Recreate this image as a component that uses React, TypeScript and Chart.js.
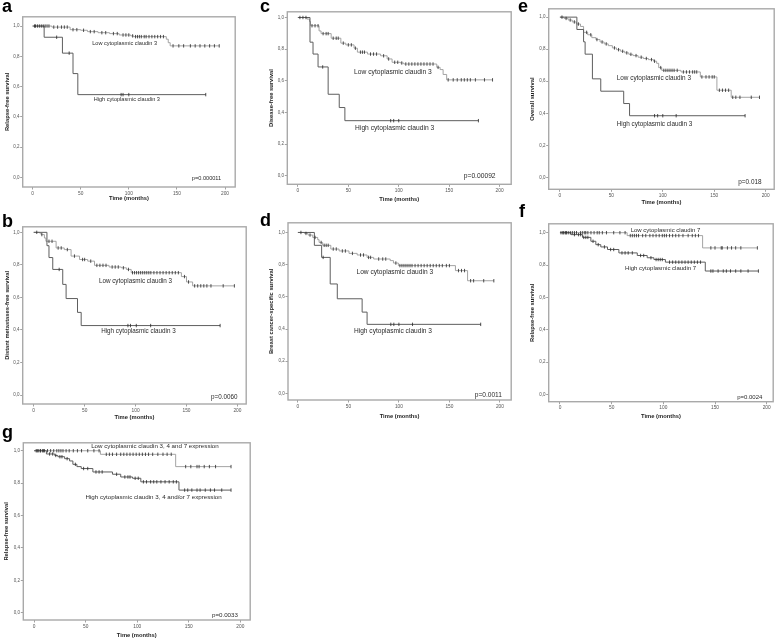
import React, { useEffect, useRef } from 'react';
import { Chart, registerables } from 'chart.js';

Chart.register(...registerables);

const FONT = '"Liberation Sans", Arial, sans-serif';

// ---- shared axis ticks ----
const xTickValues = [0, 50, 100, 150, 200];
const yTickValues = [0, 0.2, 0.4, 0.6, 0.8, 1.0];
const xAxisTitle = 'Time (months)';

// ---- panel a : relapse-free survival, claudin 3 ----
const aLowTime = [0, 20, 39, 50, 57, 68, 80, 90, 102, 105, 139, 141, 143, 194];
const aLowSurv = [1, 0.993, 0.976, 0.972, 0.963, 0.956, 0.95, 0.941, 0.935, 0.93, 0.913, 0.89, 0.869, 0.869];
const aLowCens = [2, 3, 5, 7, 9, 11, 13, 15, 17, 22, 26, 30, 33, 36, 42, 46, 53, 60, 64, 72, 76, 84, 88, 94, 97, 100, 104, 107, 109, 111, 113, 116, 118, 121, 124, 127, 130, 133, 136, 146, 152, 157, 164, 169, 174, 179, 184, 189, 194];
const aHighTime = [0, 12, 31, 42, 47, 180];
const aHighSurv = [1, 0.926, 0.821, 0.686, 0.547, 0.547];
const aHighCens = [25, 38, 92, 94, 100, 180];

// ---- panel b : distant metastases-free survival ----
const bLowTime = [0, 5.6, 7.2, 10.5, 12, 22, 30, 36.7, 45, 53, 59.7, 74, 86, 91, 95.7, 145, 150, 156, 197];
const bLowSurv = [1, 0.996, 0.986, 0.965, 0.945, 0.904, 0.894, 0.854, 0.833, 0.823, 0.797, 0.787, 0.782, 0.772, 0.752, 0.728, 0.695, 0.671, 0.671];
const bLowCens = [3, 8, 15, 18, 24, 27, 33, 40, 48, 50, 56, 62, 65, 68, 71, 77, 80, 83, 88, 93, 97, 99, 101, 103, 105, 107, 109, 111, 113, 115, 118, 121, 124, 127, 130, 133, 136, 139, 142, 148, 152, 158, 161, 164, 167, 170, 174, 186, 197];
const bHighTime = [0, 13, 15, 18.7, 28.5, 31.8, 43, 46.6, 183];
const bHighSurv = [1, 0.918, 0.845, 0.772, 0.68, 0.593, 0.508, 0.427, 0.427];
const bHighCens = [25, 92.5, 95, 100.7, 114.8, 183];

// ---- panel c : disease-free survival ----
const cLowTime = [0, 9, 11.5, 12.5, 21, 23, 33, 42.6, 47.5, 55.7, 59, 69, 82, 88.5, 93.4, 101.6, 105, 137.7, 141, 144, 147.5, 193];
const cLowSurv = [1, 0.99, 0.975, 0.948, 0.915, 0.898, 0.869, 0.838, 0.827, 0.806, 0.781, 0.769, 0.758, 0.738, 0.717, 0.7125, 0.706, 0.685, 0.671, 0.64, 0.606, 0.606];
const cLowCens = [2, 5, 8, 14, 17, 20, 25, 28, 30, 35, 38, 40, 45, 50, 53, 57, 62, 64, 66, 72, 75, 78, 85, 90, 96, 99, 103, 107, 110, 113, 116, 119, 122, 125, 128, 131, 134, 139, 149, 154, 158, 162, 165, 168, 171, 176, 185, 193];
const cHighTime = [0, 12, 15, 20, 30, 41, 46.6, 179];
const cHighSurv = [1, 0.844, 0.769, 0.6875, 0.515, 0.431, 0.348, 0.348];
const cHighCens = [24.6, 92, 95, 100, 179];

// ---- panel d : breast cancer-specific survival ----
const dLowTime = [0, 6.5, 10, 14.7, 19.6, 21, 24.5, 32.6, 40.8, 50.6, 58.7, 68.5, 75, 91.4, 94.6, 99.5, 156, 168, 194];
const dLowSurv = [1, 0.994, 0.984, 0.969, 0.955, 0.938, 0.92, 0.897, 0.885, 0.87, 0.86, 0.845, 0.835, 0.825, 0.81, 0.794, 0.763, 0.7, 0.7];
const dLowCens = [3, 8, 12, 17, 23, 26, 28, 30, 35, 38, 44, 47, 54, 62, 65, 70, 72, 80, 84, 87, 97, 101, 103, 105, 107, 109, 111, 113, 116, 119, 122, 125, 128, 131, 134, 137, 140, 143, 147, 150, 159, 162, 165, 171, 174, 184, 194];
const dHighTime = [0, 16.3, 23.5, 32, 39, 63.6, 68.5, 181];
const dHighSurv = [1, 0.92, 0.845, 0.68, 0.588, 0.505, 0.429, 0.429];
const dHighCens = [25, 92, 95, 100, 113.5, 181];

// ---- panel e : overall survival ----
const eLowTime = [0, 4, 8, 12, 16, 20, 23, 27, 31, 35, 39, 43, 47, 51, 55, 59, 63, 67, 71, 76, 81, 86, 91, 94, 96, 99, 117.7, 136.5, 152.6, 166.5, 194];
const eLowSurv = [1, 0.992, 0.982, 0.97, 0.957, 0.942, 0.905, 0.89, 0.872, 0.86, 0.845, 0.833, 0.822, 0.808, 0.797, 0.787, 0.777, 0.768, 0.76, 0.75, 0.742, 0.735, 0.725, 0.712, 0.685, 0.668, 0.658, 0.627, 0.544, 0.5, 0.5];
const eLowCens = [2, 6, 10, 14, 18, 26, 30, 36, 41, 45, 53, 57, 61, 65, 69, 74, 79, 84, 89, 92, 98, 101, 103, 105, 107, 109, 111, 114, 120, 123, 126, 129, 131, 133, 138, 142, 145, 148, 150, 155, 158, 161, 164, 168, 171, 175, 186, 194];
const eHighTime = [0, 16.5, 23, 24.5, 31.6, 39.7, 62, 67.7, 180];
const eHighSurv = [1, 0.923, 0.846, 0.769, 0.615, 0.538, 0.461, 0.385, 0.385];
const eHighCens = [92, 95, 100, 113, 180];

// ---- panel f : relapse-free survival, claudin 7 ----
const fLowTime = [0, 65, 138, 191];
const fLowSurv = [1, 0.982, 0.906, 0.906];
const fLowCens = [1, 3, 5, 6, 8, 10, 12, 14, 16, 20, 22, 24, 25, 27, 30, 33, 36, 38, 41, 45, 52, 58, 63, 68, 70, 72, 74, 76, 80, 83, 87, 90, 93, 96, 99, 101, 103, 106, 109, 112, 115, 119, 124, 128, 131, 134, 146, 150, 156, 157, 162, 166, 170, 175, 191];
const fHighTime = [0, 10.6, 21.8, 29.9, 34.7, 39.5, 46, 57, 74.8, 84.4, 90.9, 102, 140.6, 192];
const fHighSurv = [1, 0.988, 0.971, 0.947, 0.926, 0.912, 0.896, 0.875, 0.859, 0.845, 0.834, 0.818, 0.763, 0.763];
const fHighCens = [3, 6, 14, 18, 20, 23, 25, 27, 32, 37, 43, 49, 52, 60, 63, 66, 70, 78, 81, 88, 93, 95, 97, 99, 106, 109, 112, 115, 118, 121, 124, 127, 130, 133, 136, 146, 148, 153, 158, 161, 165, 170, 175, 182, 192];

// ---- panel g : relapse-free survival, claudin 3, 4, 7 ----
const gLowTime = [0, 64.3, 137.3, 191];
const gLowSurv = [1, 0.978, 0.902, 0.902];
const gLowCens = [2, 4, 6, 8, 10, 13, 16, 19, 22, 24, 26, 28, 31, 34, 38, 42, 46, 52, 58, 63, 70, 73, 76, 80, 84, 87, 90, 93, 96, 99, 102, 105, 108, 111, 115, 120, 125, 129, 133, 147, 152, 158, 160, 165, 170, 176, 191];
const gHighTime = [0, 11.9, 20, 23, 29.6, 34.4, 37.6, 41.5, 45.7, 57, 76, 84, 95.5, 103.5, 140.5, 191];
const gHighSurv = [1, 0.98, 0.971, 0.963, 0.951, 0.937, 0.916, 0.902, 0.89, 0.869, 0.855, 0.838, 0.83, 0.808, 0.757, 0.757];
const gHighCens = [3, 6, 9, 15, 18, 21, 25, 27, 32, 40, 48, 52, 60, 63, 66, 80, 88, 91, 93, 98, 101, 106, 109, 113, 116, 119, 123, 127, 131, 135, 138, 146, 149, 153, 158, 161, 166, 171, 175, 182, 191];

type Box = { l: number; t: number; r: number; b: number };
type PanelDef = {
  letter: string; letterX: number; letterBase: number;
  box: Box; xRange: [number, number]; yRange: [number, number];
  yTitleX: number; xTitleY: number; yTitle: string;
  lowT: number[]; lowS: number[]; lowC: number[];
  highT: number[]; highS: number[]; highC: number[];
  lowLabel: string; lowAt: [number, number];
  highLabel: string; highAt: [number, number];
  pText: string; pAt: [number, number]; textSize: number;
};

const panels: PanelDef[] = [
  { letter: 'a', letterX: 2, letterBase: 12, box: { l: 22.7, t: 15, r: 237, b: 187 }, xRange: [-10.3, 210.6], yRange: [-0.063, 1.061], yTitleX: 6.7, xTitleY: 198, yTitle: 'Relapse-free survival',
    lowT: aLowTime, lowS: aLowSurv, lowC: aLowCens, highT: aHighTime, highS: aHighSurv, highC: aHighCens,
    lowLabel: 'Low cytoplasmic claudin 3', lowAt: [61.9, 0.886], highLabel: 'High cytoplasmic claudin 3', highAt: [63.5, 0.512], pText: 'p=0.000011', pAt: [196, -0.007], textSize: 5.6 },
  { letter: 'b', letterX: 2, letterBase: 227, box: { l: 22.7, t: 225.7, r: 247.3, b: 404 }, xRange: [-10.8, 208.6], yRange: [-0.055, 1.034], yTitleX: 7.3, xTitleY: 416.5, yTitle: 'Distant metastases-free survival',
    lowT: bLowTime, lowS: bLowSurv, lowC: bLowCens, highT: bHighTime, highS: bHighSurv, highC: bHighCens,
    lowLabel: 'Low cytoplasmic claudin 3', lowAt: [64, 0.701], highLabel: 'High cytoplasmic claudin 3', highAt: [66.2, 0.39], pText: 'p=0.0060', pAt: [200, -0.016], textSize: 6.3 },
  { letter: 'c', letterX: 260, letterBase: 12, box: { l: 287.3, t: 10, r: 513, b: 184.3 }, xRange: [-10.5, 211.5], yRange: [-0.054, 1.036], yTitleX: 271.3, xTitleY: 199, yTitle: 'Disease-free survival',
    lowT: cLowTime, lowS: cLowSurv, lowC: cLowCens, highT: cHighTime, highS: cHighSurv, highC: cHighCens,
    lowLabel: 'Low cytoplasmic claudin 3', lowAt: [55.7, 0.654], highLabel: 'High cytoplasmic claudin 3', highAt: [56.7, 0.3], pText: 'p=0.00092', pAt: [196, 0.0], textSize: 6.7 },
  { letter: 'd', letterX: 260, letterBase: 226, box: { l: 288, t: 221.7, r: 513, b: 400 }, xRange: [-9.8, 211.2], yRange: [-0.041, 1.06], yTitleX: 271.3, xTitleY: 415.7, yTitle: 'Breast cancer-specific survival',
    lowT: dLowTime, lowS: dLowSurv, lowC: dLowCens, highT: dHighTime, highS: dHighSurv, highC: dHighCens,
    lowLabel: 'Low cytoplasmic claudin 3', lowAt: [58, 0.753], highLabel: 'High cytoplasmic claudin 3', highAt: [55.5, 0.386], pText: 'p=0.0011', pAt: [202, -0.014], textSize: 6.6 },
  { letter: 'e', letterX: 518, letterBase: 12, box: { l: 548.7, t: 7.3, r: 775.3, b: 189.3 }, xRange: [-10.9, 208.3], yRange: [-0.074, 1.052], yTitleX: 531.7, xTitleY: 201.7, yTitle: 'Overall survival',
    lowT: eLowTime, lowS: eLowSurv, lowC: eLowCens, highT: eHighTime, highS: eHighSurv, highC: eHighCens,
    lowLabel: 'Low cytoplasmic claudin 3', lowAt: [55.2, 0.617], highLabel: 'High cytoplasmic claudin 3', highAt: [55.2, 0.334], pText: 'p=0.018', pAt: [196, -0.027], textSize: 6.4 },
  { letter: 'f', letterX: 519, letterBase: 217, box: { l: 548.7, t: 222.3, r: 774.3, b: 401.7 }, xRange: [-10.9, 206.3], yRange: [-0.045, 1.055], yTitleX: 531.7, xTitleY: 415.7, yTitle: 'Relapse-free survival',
    lowT: fLowTime, lowS: fLowSurv, lowC: fLowCens, highT: fHighTime, highS: fHighSurv, highC: fHighCens,
    lowLabel: 'Low cytoplasmic claudin 7', lowAt: [68.4, 1.014], highLabel: 'High cytoplasmic claudin 7', highAt: [63, 0.777], pText: 'p=0.0024', pAt: [195.8, -0.02], textSize: 6.0 },
  { letter: 'g', letterX: 2, letterBase: 438, box: { l: 23.3, t: 441.7, r: 251.7, b: 620 }, xRange: [-10.5, 209.6], yRange: [-0.045, 1.049], yTitleX: 6, xTitleY: 635, yTitle: 'Relapse-free survival',
    lowT: gLowTime, lowS: gLowSurv, lowC: gLowCens, highT: gHighTime, highS: gHighSurv, highC: gHighCens,
    lowLabel: 'Low cytoplasmic claudin 3, 4 and 7 expression', lowAt: [55.3, 1.025], highLabel: 'High cytoplasmic claudin 3, 4 and/or 7 expression', highAt: [49.8, 0.712], pText: 'p=0.0033', pAt: [197.7, -0.014], textSize: 6.2 },
];

function survAt(T: number[], S: number[], t: number) {
  let s = S[0];
  for (let i = 0; i < T.length; i++) if (T[i] <= t) s = S[i];
  return s;
}

function Panel({ def }: { def: PanelDef }) {
  const ref = useRef<HTMLCanvasElement>(null);
  const cl = Math.round(def.yTitleX - 6);
  const ct = Math.floor(def.box.t - 3);
  const cr = Math.ceil(def.box.r + 3);
  const cb = Math.round(def.xTitleY + 6);
  const w = cr - cl;
  const h = cb - ct;

  useEffect(() => {
    const yAxisW = def.box.l - cl;
    const xAxisH = cb - def.box.b;
    const boxPlugin = {
      id: 'kmBox',
      afterDatasetsDraw(chart: any) {
        const { ctx, chartArea: a, scales } = chart;
        ctx.save();
        ctx.strokeStyle = '#a9a9a9';
        ctx.lineWidth = 1.4;
        ctx.strokeRect(a.left, a.top, a.right - a.left, a.bottom - a.top);
        const px = (t: number) => scales.x.getPixelForValue(t);
        const py = (s: number) => scales.y.getPixelForValue(s);
        ctx.fillStyle = '#2a2a2a';
        ctx.font = `${def.textSize}px ${FONT}`;
        ctx.textBaseline = 'middle';
        ctx.textAlign = 'left';
        ctx.fillText(def.lowLabel, px(def.lowAt[0]), py(def.lowAt[1]));
        ctx.fillText(def.highLabel, px(def.highAt[0]), py(def.highAt[1]));
        ctx.textAlign = 'right';
        ctx.fillText(def.pText, px(def.pAt[0]), py(def.pAt[1]));
        ctx.restore();
      },
    };
    const censorDs = (C: number[], T: number[], S: number[]) => ({
      type: 'scatter' as const,
      data: C.map((t) => ({ x: t, y: survAt(T, S, t) })),
      showLine: false,
      pointStyle: 'line',
      pointRotation: 90,
      rotation: 90,
      pointRadius: 1.7,
      pointBorderColor: '#262626',
      borderColor: '#262626',
      pointBorderWidth: 0.8,
      borderWidth: 0.8,
    });
    const lineDs = (T: number[], S: number[], color: string, width: number) => ({
      type: 'line' as const,
      data: T.map((t, i) => ({ x: t, y: S[i] })),
      stepped: 'before',
      borderColor: color,
      borderWidth: width,
      pointRadius: 0,
      fill: false,
      tension: 0,
    });
    const chart = new Chart(ref.current as HTMLCanvasElement, {
      type: 'line',
      data: {
        datasets: [
          censorDs(def.lowC, def.lowT, def.lowS),
          censorDs(def.highC, def.highT, def.highS),
          lineDs(def.highT, def.highS, '#5e5e5e', 1),
          lineDs(def.lowT, def.lowS, '#9a9a9a', 0.9),
        ] as any,
      },
      options: {
        animation: false,
        responsive: false,
        events: [],
        layout: { padding: { left: 0, bottom: 0, top: def.box.t - ct, right: cr - def.box.r } },
        plugins: { legend: { display: false }, tooltip: { enabled: false } },
        scales: {
          x: {
            type: 'linear',
            min: def.xRange[0],
            max: def.xRange[1],
            afterBuildTicks: (s: any) => { s.ticks = xTickValues.map((v) => ({ value: v })); },
            afterFit: (s: any) => { s.height = xAxisH; },
            grid: { drawOnChartArea: false, drawTicks: true, tickLength: 2.5, color: '#8a8a8a', lineWidth: 0.8 },
            border: { display: false },
            ticks: { font: { size: 4.8, family: FONT }, color: '#555', padding: 0.8, maxRotation: 0, autoSkip: false, callback: (v: any) => String(v) },
            title: { display: true, text: xAxisTitle, font: { size: 5.8, weight: 'bold', family: FONT }, color: '#1e1e1e', padding: { top: 0, bottom: 2.5 } },
          },
          y: {
            type: 'linear',
            min: def.yRange[0],
            max: def.yRange[1],
            afterBuildTicks: (s: any) => { s.ticks = yTickValues.map((v) => ({ value: v })); },
            afterFit: (s: any) => { s.width = yAxisW; },
            grid: { drawOnChartArea: false, drawTicks: true, tickLength: 2.5, color: '#8a8a8a', lineWidth: 0.8 },
            border: { display: false },
            ticks: { font: { size: 4.5, family: FONT }, color: '#555', padding: 0.8, autoSkip: false, callback: (v: any) => Number(v).toFixed(1).replace('.', ',') },
            title: { display: true, text: def.yTitle, font: { size: 5.8, weight: 'bold', family: FONT }, color: '#1e1e1e', padding: { top: 2.5, bottom: 0 } },
          },
        },
      } as any,
      plugins: [boxPlugin],
    });
    return () => chart.destroy();
  }, []);

  return (
    <>
      <canvas ref={ref} width={w} height={h} style={{ position: 'absolute', left: cl, top: ct, width: w, height: h }} />
      <div style={{ position: 'absolute', left: def.letterX, top: def.letterBase - 15.2, fontFamily: FONT, fontWeight: 'bold', fontSize: 18, lineHeight: '18px', color: '#000' }}>{def.letter}</div>
    </>
  );
}

export default function App() {
  return (
    <div style={{ position: 'absolute', left: 0, top: 0, width: 778, height: 640, background: '#fff', overflow: 'hidden' }}>
      {panels.map((p) => (
        <Panel key={p.letter} def={p} />
      ))}
    </div>
  );
}
